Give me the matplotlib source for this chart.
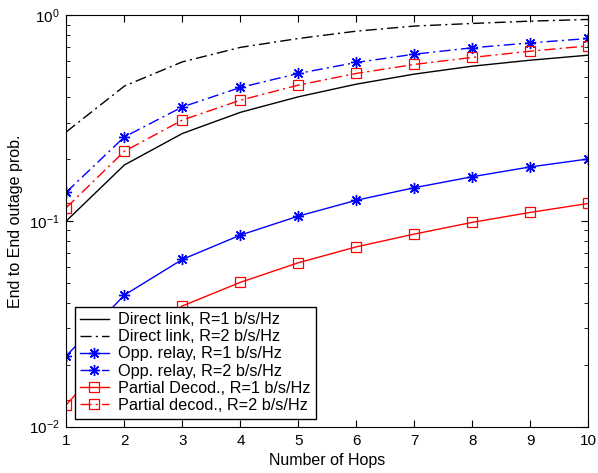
import matplotlib
matplotlib.use("Agg")
from matplotlib import pyplot as plt
from matplotlib.ticker import LogLocator, NullFormatter

plt.rcParams['font.family'] = ['Liberation Sans', 'DejaVu Sans']

hops = [1, 2, 3, 4, 5, 6, 7, 8, 9, 10]

direct_r1 = [0.100, 0.187, 0.266, 0.337, 0.401, 0.462, 0.517, 0.565, 0.604, 0.639]
direct_r2 = [0.271, 0.452, 0.593, 0.697, 0.770, 0.836, 0.885, 0.911, 0.935, 0.953]
opp_r1 = [0.0221, 0.0436, 0.065, 0.0853, 0.1055, 0.126, 0.145, 0.164, 0.183, 0.200]
opp_r2 = [0.138, 0.256, 0.358, 0.445, 0.521, 0.589, 0.646, 0.694, 0.733, 0.770]
pd_r1 = [0.0128, 0.026, 0.0386, 0.0503, 0.0626, 0.0748, 0.0863, 0.0984, 0.110, 0.1216]
pd_r2 = [0.116, 0.218, 0.309, 0.386, 0.457, 0.521, 0.576, 0.623, 0.668, 0.709]

labels = ["Direct link, R=1 b/s/Hz", "Direct link, R=2 b/s/Hz",
          "Opp. relay, R=1 b/s/Hz", "Opp. relay, R=2 b/s/Hz",
          "Partial Decod., R=1 b/s/Hz", "Partial decod., R=2 b/s/Hz"]

dashdot = (0, (8, 3, 1.5, 3))
asterisk = (8, 2, 0)

fig = plt.figure(figsize=(5.98, 4.73), dpi=100)
ax = fig.add_axes([0.111, 0.098, 0.873, 0.870])

ax.plot(hops, direct_r1, color='black', lw=1, linestyle='-', label=labels[0])
ax.plot(hops, direct_r2, color='black', lw=1, linestyle=dashdot, label=labels[1])
ax.plot(hops, opp_r1, color='blue', lw=1, linestyle='-', marker=asterisk, ms=8,
        mew=1, label=labels[2])
ax.plot(hops, opp_r2, color='blue', lw=1, linestyle=dashdot, marker=asterisk, ms=8,
        mew=1, label=labels[3])
ax.plot(hops, pd_r1, color='red', lw=1, linestyle='-', marker='s', ms=7,
        mfc='none', mew=0.9, label=labels[4])
ax.plot(hops, pd_r2, color='red', lw=1, linestyle=dashdot, marker='s', ms=7,
        mfc='none', mew=0.9, label=labels[5])

ax.set_yscale('log')
ax.set_xlim(1, 10)
ax.set_ylim(1e-2, 1)
ax.set_xticks(hops)
ax.yaxis.set_minor_locator(LogLocator(base=10, subs=range(2, 10)))
ax.yaxis.set_minor_formatter(NullFormatter())
ax.tick_params(which='both', direction='in', top=True, right=True, labelsize=11)
ax.tick_params(which='major', length=5, pad=5)
ax.tick_params(which='minor', length=3)

ax.set_xlabel("Number of Hops", fontsize=11.5, labelpad=4)
ax.set_ylabel("End to End outage prob.", fontsize=11.5, labelpad=4)

leg = ax.legend(loc='lower left', fontsize=11.7, fancybox=False, framealpha=1,
                edgecolor='black', borderaxespad=0.5, handlelength=1.75,
                handletextpad=0.55, labelspacing=0.13, borderpad=0.35)
leg.get_frame().set_linewidth(1)

fig.savefig("out.png", dpi=100)
